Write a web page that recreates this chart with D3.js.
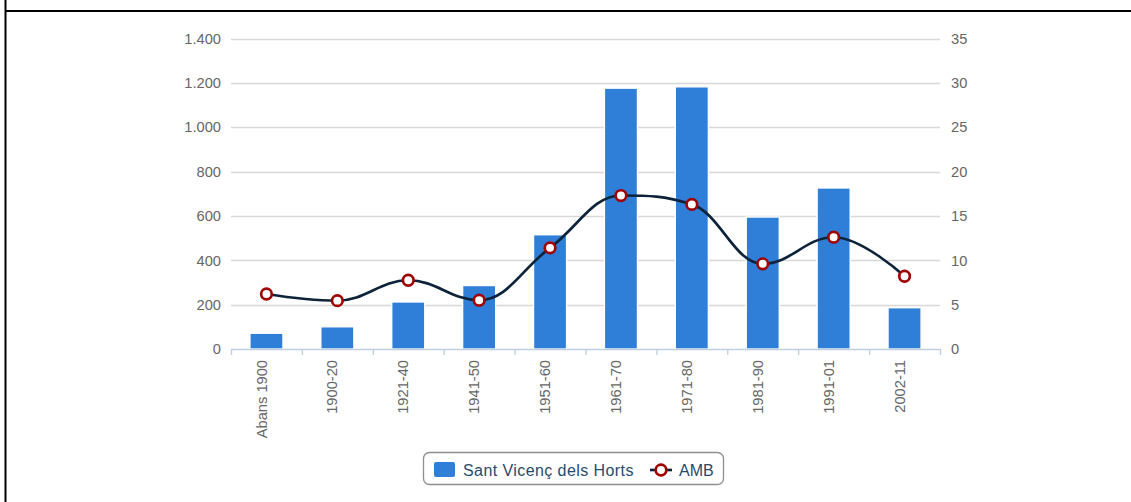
<!DOCTYPE html>
<html>
<head>
<meta charset="utf-8">
<script src="https://cdn.jsdelivr.net/npm/d3@7"></script>
<style>
  body { margin: 0; background: #fff; }
  svg { display: block; font-family: "Liberation Sans", Arial, sans-serif; }
</style>
</head>
<body>
<div id="chart"></div>
<script>
// data
const categories = ['Abans 1900', '1900-20', '1921-40', '1941-50', '1951-60',
  '1961-70', '1971-80', '1981-90', '1991-01', '2002-11'];
const barValues = [71, 100, 212, 286, 515, 1176, 1182, 595, 726, 186];
const lineValues = [6.2, 5.45, 7.75, 5.5, 11.4, 17.3, 16.3, 9.6, 12.6, 8.2];
const leftTicks = [0, 200, 400, 600, 800, 1000, 1200, 1400];
const rightTicks = [0, 5, 10, 15, 20, 25, 30, 35];
const seriesNames = ['Sant Vicenç dels Horts', 'AMB'];

const W = 1131, H = 502;
const pLeft = 231, pRight = 940, pTop = 38.5, pBottom = 349;

const svg = d3.select('#chart').append('svg')
  .attr('width', W)
  .attr('height', H);

// frame lines
svg.append('line').attr('x1', 5.5).attr('x2', 5.5).attr('y1', 0).attr('y2', H)
  .attr('stroke', '#000').attr('stroke-width', 2);
svg.append('line').attr('x1', 5).attr('x2', W).attr('y1', 11).attr('y2', 11)
  .attr('stroke', '#000').attr('stroke-width', 2);

const x = d3.scaleBand().domain(categories).range([pLeft, pRight]).paddingInner(0).paddingOuter(0);
const yL = d3.scaleLinear().domain([0, 1400]).range([pBottom, pTop]);
const yR = d3.scaleLinear().domain([0, 35]).range([pBottom, pTop]);

const fmt = d => d3.format(',')(d).replace(/,/g, '.');

// grid lines
svg.append('g').selectAll('line').data(leftTicks.slice(1)).join('line')
  .attr('x1', pLeft).attr('x2', pRight)
  .attr('y1', d => Math.round(yL(d)) + 0.5).attr('y2', d => Math.round(yL(d)) + 0.5)
  .attr('stroke', '#d8d8d8').attr('stroke-width', 1.33);

// left labels
svg.append('g').selectAll('text').data(leftTicks).join('text')
  .attr('x', 221).attr('y', d => yL(d)).attr('dy', '0.36em')
  .attr('text-anchor', 'end')
  .attr('fill', '#666').style('font-size', '14.67px')
  .text(fmt);

// right labels
svg.append('g').selectAll('text').data(rightTicks).join('text')
  .attr('x', 951).attr('y', d => yR(d)).attr('dy', '0.36em')
  .attr('text-anchor', 'start')
  .attr('fill', '#666').style('font-size', '14.67px')
  .text(d => d);

// bars
const bw = 33;
svg.append('g').selectAll('rect').data(barValues).join('rect')
  .attr('x', (d, i) => x(categories[i]) + x.bandwidth() / 2 - bw / 2)
  .attr('y', d => yL(d))
  .attr('width', bw)
  .attr('height', d => pBottom - yL(d))
  .attr('fill', '#2f7ed8')
  .attr('stroke', '#fff').attr('stroke-width', 1.33);

// x axis line and ticks
svg.append('line').attr('x1', pLeft).attr('x2', pRight + 1).attr('y1', pBottom + 0.5).attr('y2', pBottom + 0.5)
  .attr('stroke', '#c0d0e0').attr('stroke-width', 1.5);
const tickPos = categories.map(c => x(c)).concat([pRight]);
svg.append('g').selectAll('line').data(tickPos).join('line')
  .attr('x1', d => d + 0.5).attr('x2', d => d + 0.5)
  .attr('y1', pBottom).attr('y2', pBottom + 6)
  .attr('stroke', '#c0d0e0').attr('stroke-width', 1.33);

// x labels, rotated
svg.append('g').selectAll('text').data(categories).join('text')
  .attr('transform', d => `translate(${x(d) + x.bandwidth() / 2 - 5},360) rotate(-90)`)
  .attr('dy', '0.35em')
  .attr('text-anchor', 'end')
  .attr('fill', '#666').style('font-size', '14.67px')
  .text(d => d);

// line series: spline with control points like the original chart lib
const pts = lineValues.map((v, i) => [x(categories[i]) + x.bandwidth() / 2, yR(v)]);
const sm = 1.5, den = sm + 1;
const conts = pts.map((p, i) => {
  if (i === 0 || i === pts.length - 1) return null;
  const [lx, ly] = pts[i - 1], [nx, ny] = pts[i + 1], [px, py] = p;
  let lcx = (sm * px + lx) / den, lcy = (sm * py + ly) / den;
  let rcx = (sm * px + nx) / den, rcy = (sm * py + ny) / den;
  const corr = ((rcy - lcy) * (rcx - px)) / (rcx - lcx) + py - rcy;
  lcy += corr; rcy += corr;
  if (lcy > ly && lcy > py) { lcy = Math.max(ly, py); rcy = 2 * py - lcy; }
  else if (lcy < ly && lcy < py) { lcy = Math.min(ly, py); rcy = 2 * py - lcy; }
  if (rcy > ny && rcy > py) { rcy = Math.max(ny, py); lcy = 2 * py - rcy; }
  else if (rcy < ny && rcy < py) { rcy = Math.min(ny, py); lcy = 2 * py - rcy; }
  return { lcx, lcy, rcx, rcy };
});
const p = d3.path();
pts.forEach((pt, i) => {
  if (i === 0) { p.moveTo(pt[0], pt[1]); return; }
  const prev = pts[i - 1], pc = conts[i - 1], c = conts[i];
  p.bezierCurveTo(
    pc ? pc.rcx : prev[0], pc ? pc.rcy : prev[1],
    c ? c.lcx : pt[0], c ? c.lcy : pt[1],
    pt[0], pt[1]);
});

svg.append('path')
  .attr('fill', 'none')
  .attr('stroke', '#0d233a')
  .attr('stroke-width', 2.67)
  .attr('d', p.toString());

svg.append('g').selectAll('circle').data(lineValues).join('circle')
  .attr('cx', (d, i) => x(categories[i]) + x.bandwidth() / 2)
  .attr('cy', d => yR(d))
  .attr('r', 5.3)
  .attr('fill', '#fff')
  .attr('stroke', '#a00000')
  .attr('stroke-width', 2.67);

// legend
const lg = svg.append('g');
lg.append('rect')
  .attr('x', 423.5).attr('y', 452.5).attr('width', 300).attr('height', 32)
  .attr('rx', 6).attr('fill', '#fff')
  .attr('stroke', '#909090').attr('stroke-width', 1.33);
lg.append('rect')
  .attr('x', 434).attr('y', 462).attr('width', 21).attr('height', 15).attr('rx', 2)
  .attr('fill', '#2f7ed8');
lg.append('text')
  .attr('x', 463).attr('y', 476)
  .attr('fill', '#274b6d').style('font-size', '16px')
  .style('letter-spacing', '0.42px')
  .text(seriesNames[0]);
lg.append('line')
  .attr('x1', 650).attr('x2', 672).attr('y1', 470).attr('y2', 470)
  .attr('stroke', '#0d233a').attr('stroke-width', 2.67);
lg.append('circle')
  .attr('cx', 661).attr('cy', 470).attr('r', 5.3)
  .attr('fill', '#fff').attr('stroke', '#a00000').attr('stroke-width', 2.67);
lg.append('text')
  .attr('x', 679).attr('y', 476)
  .attr('fill', '#274b6d').style('font-size', '16px')
  .text(seriesNames[1]);
</script>
</body>
</html>
